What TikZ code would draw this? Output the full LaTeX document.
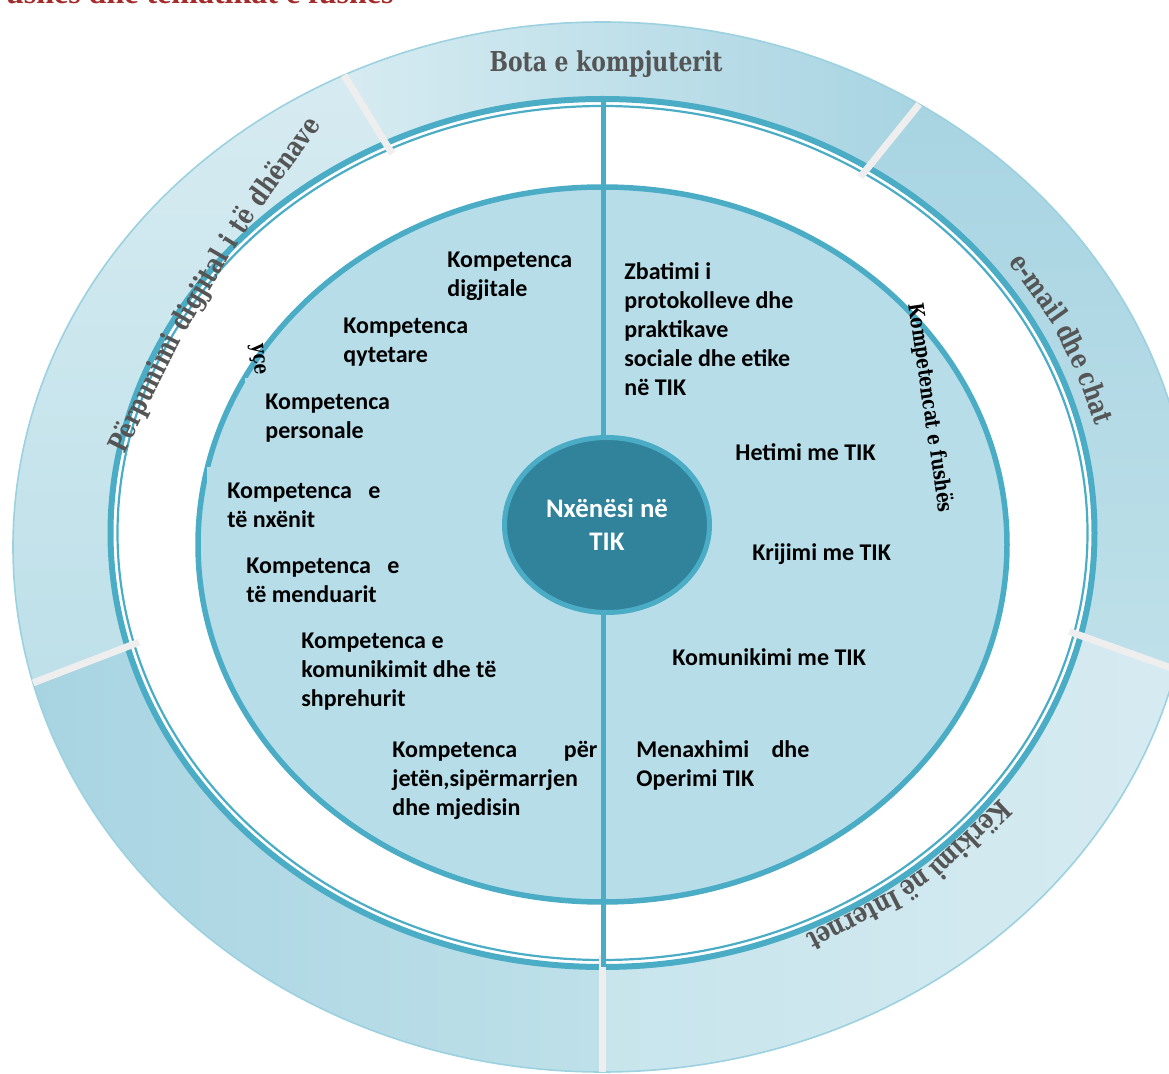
\documentclass[tikz,border=0pt]{standalone}
\usepackage{fontspec}
\usetikzlibrary{shapes.geometric}

\newfontfamily\carlito{Carlito}
\newfontfamily\slab[FakeStretch=0.8]{DejaVu Serif}
\newfontfamily\headfont{Liberation Serif}

\definecolor{ringblue}{RGB}{75,172,198}
\definecolor{disk}{RGB}{183,221,232}
\definecolor{core}{RGB}{49,130,155}
\definecolor{gapgray}{RGB}{238,238,238}
\definecolor{labgray}{RGB}{85,85,85}
\definecolor{headred}{RGB}{165,42,42}
\definecolor{segLight}{RGB}{214,235,241}
\definecolor{segMid}{RGB}{190,224,233}
\definecolor{segDark}{RGB}{168,212,226}

% one piece of the outer ring, between two angles
\newcommand\ringpart[3]{\fill[#3] ({602.5+589.5*cos(#1)},{526+525*sin(#1)})
  arc[start angle=#1, end angle=#2, x radius=589.5, y radius=525]
  -- ({602.5+492*cos(#2)},{540+434*sin(#2)})
  arc[start angle=#2, end angle=#1, x radius=492, y radius=434] -- cycle;}

\begin{document}
\begin{tikzpicture} [
  x=0.5pt, y=0.5pt,
  komp/.style={font=\carlito\bfseries\fontsize{12}{14.5}\selectfont, align=left, anchor=north west, inner sep=0pt},
  kompbox/.style={komp, fill=disk, inner xsep=10pt, inner ysep=8pt},
  ringlabel/.style={font=\slab\bfseries\fontsize{13.7}{16}\selectfont, text=labgray, inner sep=0pt},
  fushalabel/.style={font=\slab\bfseries\fontsize{10.6}{12}\selectfont, text=black},
  gap/.style={draw=gapgray, line width=3.5pt}
  ]
  \useasboundingbox (0,0) rectangle (1169,1073);
  \clip (0,0) rectangle (1169,1073);

  \node [anchor=base east, inner sep=0, text=headred,
    font=\headfont\bfseries\fontsize{16}{18}\selectfont] (titulli) at (394,1069) {ushës dhe tematikat e fushës};

  % outer ring
  \ringpart{57.5}{116}{left color=segLight, right color=segDark}
  \ringpart{-13.5}{57.5}{top color=segDark, bottom color=segMid}
  \ringpart{-90}{-13.5}{left color=segMid!60!segLight, right color=segLight}
  \ringpart{195}{270}{left color=segDark, right color=segMid}
  \ringpart{116}{195}{top color=segLight, bottom color=segMid}
  \draw [ringblue!55, line width=0.8pt] (602.5,526) ellipse [x radius=589.5, y radius=525];
  \draw [ringblue, line width=3pt] (602.5,540) ellipse [x radius=492, y radius=434];
  \draw [ringblue, line width=1.1pt] (602.5,540) ellipse [x radius=485, y radius=427];
  \foreach \a in {116,57.5,-13.5,-90,195}
    \draw [gap] ({602.5+589.5*cos(\a)},{526+525*sin(\a)}) -- ({602.5+480*cos(\a)},{540+422*sin(\a)});

  % inner disk
  \draw [fill=disk, draw=ringblue, line width=2.75pt] (602.5,528.5) ellipse [x radius=404.5, y radius=357.5];

  \node [kompbox] (personale) at (245,695.5) {Kompetenca\\personale};
  \node [kompbox] (nxenit) at (207,606.5) {\makebox[76.5pt][s]{Kompetenca e}\\të nxënit};
  \node [kompbox] (jeten) at (372,348.5) {\makebox[102.5pt][s]{Kompetenca për}\\jetën,sipërmarrjen\\dhe mjedisin};

  \coordinate (lart) at (603,974);
  \coordinate (poshte) at (603,106);
  \draw [ringblue, line width=2.5pt] (lart) -- (poshte);

  \node [ellipse, draw=ringblue, line width=2.5pt, fill=core, minimum width=102.5pt, minimum height=87.5pt,
    inner sep=0, align=center, text=white, font=\carlito\bfseries\fontsize{13.4}{16.5}\selectfont]
    (nxenesi) at (607,548) {Nxënësi në\\TIK};

  \node [komp] (digjitale) at (447,821.5) {Kompetenca\\digjitale};
  \node [komp] (qytetare) at (343,755.5) {Kompetenca\\qytetare};
  \node [komp] (menduarit) at (246,515.5) {\makebox[76.5pt][s]{Kompetenca e}\\të menduarit};
  \node [komp] (komunikimit) at (301,440.5) {Kompetenca e\\komunikimit dhe të\\shprehurit};

  \node [komp] (zbatimi) at (624,810.5) {Zbatimi i\\protokolleve dhe\\praktikave\\sociale dhe etike\\në TIK};
  \node [komp] (hetimi) at (735,629.5) {Hetimi me TIK};
  \node [komp] (krijimi) at (752,529.5) {Krijimi me TIK};
  \node [komp] (komunikimi) at (672,424.5) {Komunikimi me TIK};
  \node [komp] (menaxhimi) at (636,332.5) {\makebox[86.5pt][s]{Menaxhimi dhe}\\Operimi TIK};

  \node [fushalabel, rotate=-81.7] (fushes) at (930,665) {Kompetencat e fushës};
  \node [fushalabel, rotate=-85] (kyce) at (257,713) {yçe};

  % ring labels, word by word along the ring
  \node [ringlabel, anchor=base] (bota) at (606,1001) {Bota e kompjuterit};
  \coordinate (pa) at (124,618);
  \node [ringlabel, anchor=base west, rotate=63.5] (perpunimi1) at (pa) {Përpunimi};
  \node [ringlabel, anchor=base west, rotate=60] (perpunimi2) at (perpunimi1.base east) {\ digjital};
  \node [ringlabel, anchor=base west, rotate=57.5] (perpunimi3) at (perpunimi2.base east) {\ i};
  \node [ringlabel, anchor=base west, rotate=56.5] (perpunimi4) at (perpunimi3.base east) {\ të};
  \node [ringlabel, anchor=base west, rotate=54] (perpunimi5) at (perpunimi4.base east) {\ dhënave};
  \foreach \w/\t [count=\i] in {e-mail/32.4, dhe/24.1, chat/17.2}
    \node [ringlabel, anchor=base, rotate={atan2(-447*cos(\t),507*sin(\t))}] (email\i)
      at ({602.5+507*cos(\t)},{540+447*sin(\t)}) {\w};
  \foreach \w/\t [count=\i] in {Kërkimi/-43.2, në/-51.7, Internet/-60.0}
    \node [ringlabel, anchor=base, rotate={atan2(-438*cos(\t),496*sin(\t))}] (kerkimi\i)
      at ({602.5+496*cos(\t)},{540+438*sin(\t)}) {\w};
\end{tikzpicture}
\end{document}
